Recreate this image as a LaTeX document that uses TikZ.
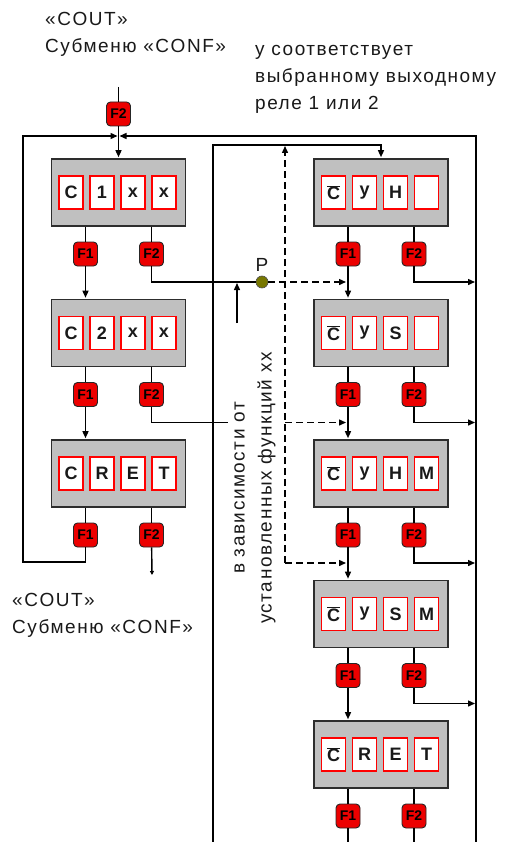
\documentclass[tikz,border=0pt]{standalone}
\usepackage{fontspec}
\setmainfont{Liberation Sans}
\newfontfamily\spaced[LetterSpace=8]{Liberation Sans}
\usetikzlibrary{positioning,arrows.meta,calc}
\definecolor{panelgray}{RGB}{192,192,192}
\definecolor{frame}{RGB}{45,45,45}
\definecolor{keyred}{RGB}{236,0,0}
\definecolor{pdot}{RGB}{120,120,0}
\definecolor{ink}{RGB}{25,25,25}
\tikzset{
  panel/.style={draw=frame, line width=1.6pt, fill=panelgray, minimum width=134pt,
                minimum height=67pt, inner sep=0pt},
  cell/.style={draw=red, line width=1.2pt, fill=white, minimum width=24pt, minimum height=33pt,
               inner sep=0pt, font=\fontsize{18}{18}\selectfont\bfseries, text=ink},
  key/.style={draw=black!85, line width=0.9pt, fill=keyred, rounded corners=4pt,
              minimum width=24pt, minimum height=24pt, inner sep=0pt,
              font=\fontsize{14}{14}\selectfont\bfseries, text=black},
  wire/.style={line width=1.4pt, draw=black},
  arr/.style={wire, -{Triangle[length=7pt,width=6pt]}, shorten >=1pt},
  darr/.style={arr, dash pattern=on 7pt off 4pt},
  lbl/.style={font=\spaced\fontsize{19}{27}\selectfont, text=ink, align=left, inner sep=0pt},
}
\newcommand{\Cbar}{$\overline{\hbox{C}}$}
% display panel with four character cells
\newcommand{\dispbox}[3]{%
  \node[panel] (#1) at (#2) {};
  \foreach \c [count=\i] in {#3}
    \node[cell] (#1c\i) at ($(#1)+({-78.5+31*\i},0)$) {\c};
}

\begin{document}
\begin{tikzpicture}[x=1pt, y=-1pt]
  \useasboundingbox (0,0) rectangle (510,842);

  % ---- panels -------------------------------------------------------
  \dispbox{L1}{118.5,192.5}{C,1,x,x}
  \dispbox{L2}{118.5,333}{C,2,x,x}
  \dispbox{L3}{118.5,473.5}{C,R,E,T}
  \dispbox{R1}{381,192.5}{\Cbar,y,H,{}}
  \dispbox{R2}{381,333}{\Cbar,y,S,{}}
  \dispbox{R3}{381,473.5}{\Cbar,y,H,M}
  \dispbox{R4}{381,614}{\Cbar,y,S,M}
  \dispbox{R5}{381,754.5}{\Cbar,R,E,T}

  % ---- keys under every panel ---------------------------------------
  \foreach \n in {L1,L2,L3,R1,R2,R3,R4,R5} {
    \node[key] (\n f1) at ($(\n)+(-33,61.5)$) {F1};
    \node[key] (\n f2) at ($(\n)+(33,61.5)$) {F2};
    \draw[wire] (\n f1 |- \n.south) -- (\n f1);
    \draw[wire] (\n f2 |- \n.south) -- (\n f2);
  }
  \foreach \a/\b in {L1/L2,L2/L3,R1/R2,R2/R3,R3/R4,R4/R5}
    \draw[arr] (\a f1) -- (\a f1 |- \b.north);

  % ---- entry from the top -------------------------------------------
  \coordinate (feed) at (118.5,87);
  \coordinate (topjoin) at (118.5,136);
  \node[key] (T) at (118.5,114) {F2};
  \draw[wire] (feed) -- (T);
  \draw[arr] (T) -- (T |- L1.north);

  % ---- loops and buses ----------------------------------------------
  \coordinate (loopc) at (23,562);
  \draw[arr] (L3f1) |- (loopc) |- (topjoin);
  \coordinate (obot) at (476,842);
  \draw[arr] (obot) |- (topjoin);
  \coordinate (ibot) at (213,842);
  \coordinate (itop) at (213,145);
  \draw[arr] (ibot) -- (itop) -| (R1.north);
  \foreach \n/\y in {R1/282,R2/422.5,R3/563,R4/703.5} {
    \coordinate (\n o) at (476,\y);
    \draw[arr] (\n f2) |- (\n o);
  }
  \draw[wire] (R5f1) -- (R5f1 |- ibot);
  \draw[wire] (R5f2) -- (R5f2 |- ibot);

  % ---- left F2 exits and point P -------------------------------------
  \node[circle, fill=pdot, draw=black!70, line width=0.6pt, minimum size=12pt, inner sep=0pt,
        label={[lbl, yshift=4pt]above:P}] (P) at (262,282) {};
  \draw[wire] (L1f2) |- (P);
  \coordinate (L2o) at (228,422.5);
  \draw[wire] (L2f2) |- (L2o);
  \coordinate (L3o) at (152,575);
  \draw[wire, -{Triangle[length=4pt,width=4pt]}] (L3f2) -- (L3o);
  \coordinate (pin) at (237,323);
  \draw[arr] (pin) -- (pin |- P);

  % ---- dashed branches ----------------------------------------------
  \coordinate (dtop) at (285,145);
  \coordinate (dmid) at (285,422.5);
  \coordinate (dbot) at (285,563);
  \draw[darr] (dbot) -- (dtop);
  \draw[darr, shorten >=2pt] (P) -- (P -| R1f1);
  \draw[darr, shorten >=2pt] (dmid) -- (dmid -| R1f1);
  \draw[darr, shorten >=2pt] (dbot) -- (dbot -| R1f1);

  % ---- texts --------------------------------------------------------
  \node[lbl, anchor=north west] (topnote) at (45,12) {«COUT»\\Субменю «CONF»};
  \node[lbl, anchor=north west] (relnote) at (255,45)
    {у соответствует\\выбранному выходному\\реле 1 или 2};
  \node[lbl, anchor=north west] (botnote) at (12,593) {«COUT»\\Субменю «CONF»};
  \node[lbl, align=center, rotate=90] (depnote) at (255,488)
    {в зависимости от\\установленных функций хх};
\end{tikzpicture}
\end{document}
